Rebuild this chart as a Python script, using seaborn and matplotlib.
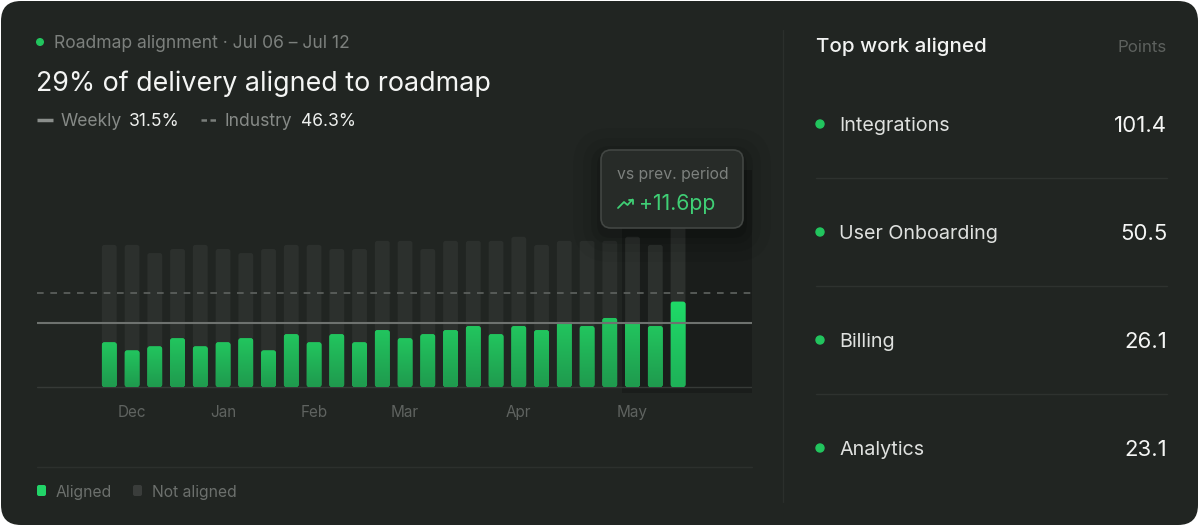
import numpy as np
import pandas as pd
import matplotlib.pyplot as plt
import seaborn as sns
from matplotlib.patches import FancyBboxPatch, Circle
from matplotlib.colors import LinearSegmentedColormap

# weekly data (percent of delivery)
aligned = [22, 18, 20, 24, 20, 22, 24, 18, 26, 22, 26, 22, 28,
           24, 26, 28, 30, 26, 30, 28, 32, 30, 34, 32, 30, 42]
not_aligned = [48, 52, 46, 44, 50, 46, 42, 50, 44, 48, 42, 46, 44,
               48, 42, 44, 42, 46, 44, 42, 40, 42, 38, 42, 40, 38]
weekly_avg = 31.5
industry_avg = 46.3
month_pos = [1, 5, 9, 13, 18, 23]
month_labels = ["Dec", "Jan", "Feb", "Mar", "Apr", "May"]

top_work = ["Integrations", "User Onboarding", "Billing", "Analytics"]
top_points = [101.4, 50.5, 26.1, 23.1]

df = pd.DataFrame({"week": [f"W{i+1}" for i in range(len(aligned))],
                   "aligned": aligned, "not_aligned": not_aligned})
df["total"] = df["aligned"] + df["not_aligned"]

BG = "#212522"
GREEN = "#22c55e"
W, H = 1199, 526

sns.set_style("dark")
plt.rcParams['font.family'] = ['Inter', 'DejaVu Sans']

fig = plt.figure(figsize=(W / 100, H / 100), dpi=100)
fig.patch.set_facecolor("white")

# background card
bg = fig.add_axes([0, 0, 1, 1])
bg.set_xlim(0, W)
bg.set_ylim(H, 0)
bg.axis("off")
bg.add_patch(FancyBboxPatch((1, 1), W - 2, H - 2, boxstyle="round,pad=0,rounding_size=20",
                            fc=BG, ec="none"))

# chart axes, placed in pixels
px_l, px_r, px_t, px_b = 37, 752, 170, 393
ax = fig.add_axes([px_l / W, 1 - px_b / H, (px_r - px_l) / W, (px_b - px_t) / H])
ax.set_facecolor("none")
ax.set_zorder(1)

x0_px, step_px = 109.3, 22.75
y_px = 2.03  # pixels per percent
xlim = ((px_l - x0_px) / step_px, (px_r - x0_px) / step_px)
ylim = (-(px_b - 387) / y_px, (387 - px_t) / y_px)

sns.barplot(data=df, x="week", y="total", color="#2c302d", width=0.65,
            saturation=1, ax=ax, zorder=2)
n_gray = len(ax.patches)
sns.barplot(data=df, x="week", y="aligned", color=GREEN, width=0.65,
            saturation=1, ax=ax, zorder=3)

# rounded bars + vertical gradient on aligned bars
aspect = step_px / y_px
cm_norm = LinearSegmentedColormap.from_list("g", ["#1f9a4e", "#22c55e"])
cm_last = LinearSegmentedColormap.from_list("gl", ["#1fb158", "#1edb68"])
grad = np.linspace(0, 1, 64).reshape(-1, 1)
rects = list(ax.patches)
for i, p in enumerate(rects):
    x, y, w, h = p.get_x(), p.get_y(), p.get_width(), p.get_height()
    p.set_visible(False)
    fb = FancyBboxPatch((x, y), w, h, boxstyle="round,pad=0,rounding_size=0.11",
                        mutation_aspect=aspect, fc=p.get_facecolor(), ec="none",
                        zorder=p.get_zorder())
    ax.add_patch(fb)
    if i >= n_gray:
        cmap = cm_last if i == len(rects) - 1 else cm_norm
        im = ax.imshow(grad, extent=[x, x + w, y, y + h], origin="lower", cmap=cmap,
                       aspect="auto", zorder=3.5, interpolation="bilinear")
        im.set_clip_path(fb)

# highlight of the latest period
ax.axvspan((622 - x0_px) / step_px, xlim[1], color="#1a1d1b", zorder=1, lw=0)

ax.axhline(industry_avg, color="#5f6360", lw=1.2, ls=(0, (4, 4)), zorder=4)
ax.axhline(weekly_avg, color="#6e726f", lw=1.5, zorder=4)
ax.axhline(0, color="#363a37", lw=1, zorder=1.5)

ax.set_xlim(*xlim)
ax.set_ylim(*ylim)
ax.set_xticks(month_pos)
ax.set_xticklabels(month_labels, color="#5f6360", fontsize=11)
ax.set_yticks([])
ax.tick_params(axis="x", length=0, pad=8.5)
ax.set_xlabel("")
ax.set_ylabel("")
ax.grid(False)
for s in ax.spines.values():
    s.set_visible(False)

# overlay for text and decorations
ov = fig.add_axes([0, 0, 1, 1])
ov.set_xlim(0, W)
ov.set_ylim(H, 0)
ov.axis("off")
ov.set_zorder(2)
ov.patch.set_alpha(0)

# header
ov.add_patch(Circle((40, 42), 3.3, color=GREEN))
ov.text(54, 44, "Roadmap alignment · Jul 06 – Jul 12", color="#7c807d",
        fontsize=12.6, va="center", ha="left")
ov.text(36, 84, "29% of delivery aligned to roadmap", color="#f4f5f4",
        fontsize=19.3, va="center", ha="left")
ov.plot([37, 53], [120, 120], color="#8a8e8b", lw=2.5, solid_capstyle="butt")
ov.text(61, 121.5, "Weekly", color="#868a87", fontsize=12.6, va="center")
ov.text(129, 121.5, f"{weekly_avg}%", color="#eef0ee", fontsize=12.6, va="center")
ov.plot([201, 218], [120, 120], color="#7a7e7b", lw=1.8, ls=(0, (2.2, 1.4)))
ov.text(225, 121.5, "Industry", color="#868a87", fontsize=12.6, va="center")
ov.text(301, 121.5, f"{industry_avg}%", color="#eef0ee", fontsize=12.6, va="center")

# tooltip with soft shadow
for k, a in [(28, 0.04), (18, 0.05), (10, 0.07), (4, 0.1)]:
    ov.add_patch(FancyBboxPatch((601 - k, 150 - k + 6), 142 + 2 * k, 78 + 2 * k,
                                boxstyle=f"round,pad=0,rounding_size={10 + k}",
                                fc="black", ec="none", alpha=a))
ov.add_patch(FancyBboxPatch((601, 150), 142, 78, boxstyle="round,pad=0,rounding_size=10",
                            fc="#272b28", ec="none", lw=0))
ov.add_patch(FancyBboxPatch((601, 150), 142, 78, boxstyle="round,pad=0,rounding_size=10",
                            fc="none", ec="#424643", lw=1.2))
ov.text(617, 174, "vs prev. period", color="#7d817e", fontsize=11.3, va="center")
ov.plot([618, 624, 627.5, 632.5], [208, 202, 205, 199.5], color="#3fcf75", lw=1.3)
ov.plot([628.5, 632.5, 632.5], [199.5, 199.5, 203.5], color="#3fcf75", lw=1.3)
ov.text(639, 204, "+11.6pp", color="#3fcf75", fontsize=15.3, va="center")

# bottom legend
ov.plot([37, 752], [467, 467], color="#2c302d", lw=1)
ov.add_patch(FancyBboxPatch((37, 485), 9, 11, boxstyle="round,pad=0,rounding_size=2",
                            fc="#22d468", ec="none"))
ov.text(56, 492, "Aligned", color="#6c706d", fontsize=11.3, va="center")
ov.add_patch(FancyBboxPatch((133, 485), 9, 11, boxstyle="round,pad=0,rounding_size=2",
                            fc="#3a3d3b", ec="none"))
ov.text(152, 492, "Not aligned", color="#6c706d", fontsize=11.3, va="center")

# right panel
ov.plot([783, 783], [30, 502], color="#2b2f2c", lw=1)
ov.text(816, 47, "Top work aligned", color="#f2f3f2", fontsize=14.8, fontweight="medium",
        va="center")
ov.text(1167, 48, "Points", color="#5d615e", fontsize=12.2, va="center", ha="right")
row_y = [124, 232, 340, 448]
for i, (name, pts) in enumerate(zip(top_work, top_points)):
    yy = row_y[i]
    ov.add_patch(Circle((820, yy), 4, color=GREEN))
    ov.text(839, yy + 2, name, color="#dfe1df", fontsize=14.2, va="center")
    ov.text(1167, yy + 2, f"{pts:.1f}", color="#f4f5f4", fontsize=16, va="center", ha="right")
    if i < len(top_work) - 1:
        ov.plot([816, 1167], [yy + 54, yy + 54], color="#2e322f", lw=1)

fig.savefig("out.png", dpi=100, facecolor=fig.get_facecolor())
